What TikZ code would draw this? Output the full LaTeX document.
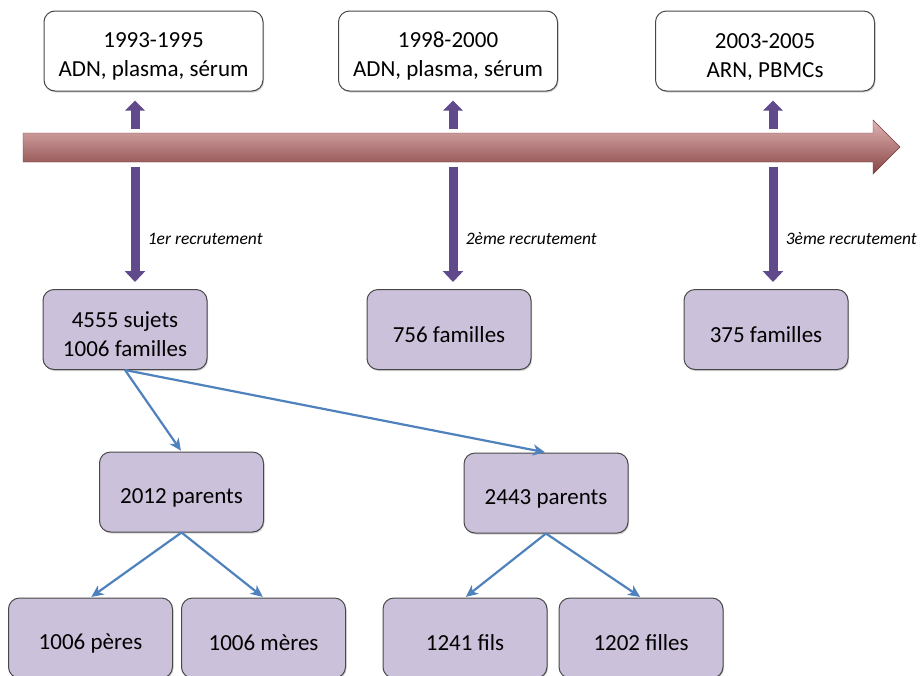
\documentclass[tikz,border=0pt]{standalone}
\usepackage{fontspec}
\setmainfont{Carlito}
\usepackage{tikz}
\usetikzlibrary{positioning,arrows.meta,shadows}
\definecolor{lavbox}{RGB}{204,193,218}
\definecolor{boxedge}{RGB}{72,72,72}
\definecolor{recarrow}{RGB}{96,74,140}
\definecolor{linkblue}{RGB}{79,129,189}
\definecolor{axtop}{RGB}{224,180,180}
\definecolor{axbot}{RGB}{136,68,68}
\newcommand{\boxstrut}{\rule{0pt}{26pt}}

\begin{document}
\begin{tikzpicture}[x=1pt, y=-1pt,
	databox/.style={draw=boxedge, line width=1pt, rounded corners=11pt, align=center,
		font=\fontsize{23}{29}\selectfont,
		drop shadow={opacity=0.35, shadow xshift=1pt, shadow yshift=-1.5pt}},
	datebox/.style={databox, fill=white, minimum width=219pt, minimum height=80pt},
	groupbox/.style={databox, fill=lavbox, minimum width=164pt, minimum height=80pt},
	uparrow/.style={recarrow, line width=9pt, -{Triangle[width=19pt,length=10pt]}},
	downarrow/.style={recarrow, line width=9pt, -{Triangle[width=20pt,length=11pt]}},
	reclabel/.style={font=\fontsize{17.5}{20}\selectfont\itshape, anchor=west, xshift=5pt},
	link/.style={linkblue, line width=2.2pt, -{Stealth[length=12pt,width=11pt,inset=3.5pt]}, shorten >=1pt}]

	\useasboundingbox (0,0) rectangle (920,675);
	\clip (0,0) rectangle (920,675);

	\shade [top color=axtop, bottom color=axbot, draw=axbot!85!black, line width=0.4pt]
		(23,133) -- (873,133) -- (873,120) -- (900,147) -- (873,174) -- (873,162) -- (23,162) -- cycle;

	\node [datebox] (y1) at (153.5,51) {\boxstrut 1993-1995\\ADN, plasma, sérum};
	\node [datebox] (y2) at (448,51) {\boxstrut 1998-2000\\ADN, plasma, sérum};
	\node [datebox] (y3) at (765,51) {\boxstrut 2003-2005\\ARN, PBMCs};

	\node [groupbox] (g1) at (125,329.5) {\boxstrut 4555 sujets\\1006 familles};
	\node [groupbox] (g2) at (449,329.5) {\boxstrut 756 familles};
	\node [groupbox] (g3) at (766,329.5) {\boxstrut 375 familles};

	\node [groupbox] (p1) at (181.5,492) {\boxstrut 2012 parents};
	\node [groupbox] (p2) at (546,493) {\boxstrut 2443 parents};

	\node [groupbox] (c1) at (90.5,638) {\boxstrut 1006 pères};
	\node [groupbox] (c2) at (263.5,638) {\boxstrut 1006 mères};
	\node [groupbox] (c3) at (465,638) {\boxstrut 1241 fils};
	\node [groupbox] (c4) at (641,638) {\boxstrut 1202 filles};

	\coordinate (u1) at (135,129);
	\coordinate (u2) at (453,129);
	\coordinate (u3) at (773,129);
	\coordinate (d1) at (135,167);
	\coordinate (d2) at (453,167);
	\coordinate (d3) at (773,167);

	\draw [uparrow, shorten >=9pt] (u1) -- (u1 |- y1.south);
	\draw [uparrow, shorten >=9pt] (u2) -- (u2 |- y2.south);
	\draw [uparrow, shorten >=9pt] (u3) -- (u3 |- y3.south);

	\draw [downarrow, shorten >=7pt] (d1) -- (d1 |- g1.north) node [reclabel, pos=0.59, text=black] (r1) {1er recrutement};
	\draw [downarrow, shorten >=7pt] (d2) -- (d2 |- g2.north) node [reclabel, pos=0.59, text=black] (r2) {2ème recrutement};
	\draw [downarrow, shorten >=7pt] (d3) -- (d3 |- g3.north) node [reclabel, pos=0.59, text=black] (r3) {3ème recrutement};

	\draw [link] (g1.south) -- (p1.north);
	\draw [link] (g1.south) -- (p2.north);
	\draw [link] (p1.south) -- (c1.north);
	\draw [link] (p1.south) -- (c2.north);
	\draw [link] (p2.south) -- (c3.north);
	\draw [link] (p2.south) -- (c4.north);
\end{tikzpicture}
\end{document}
